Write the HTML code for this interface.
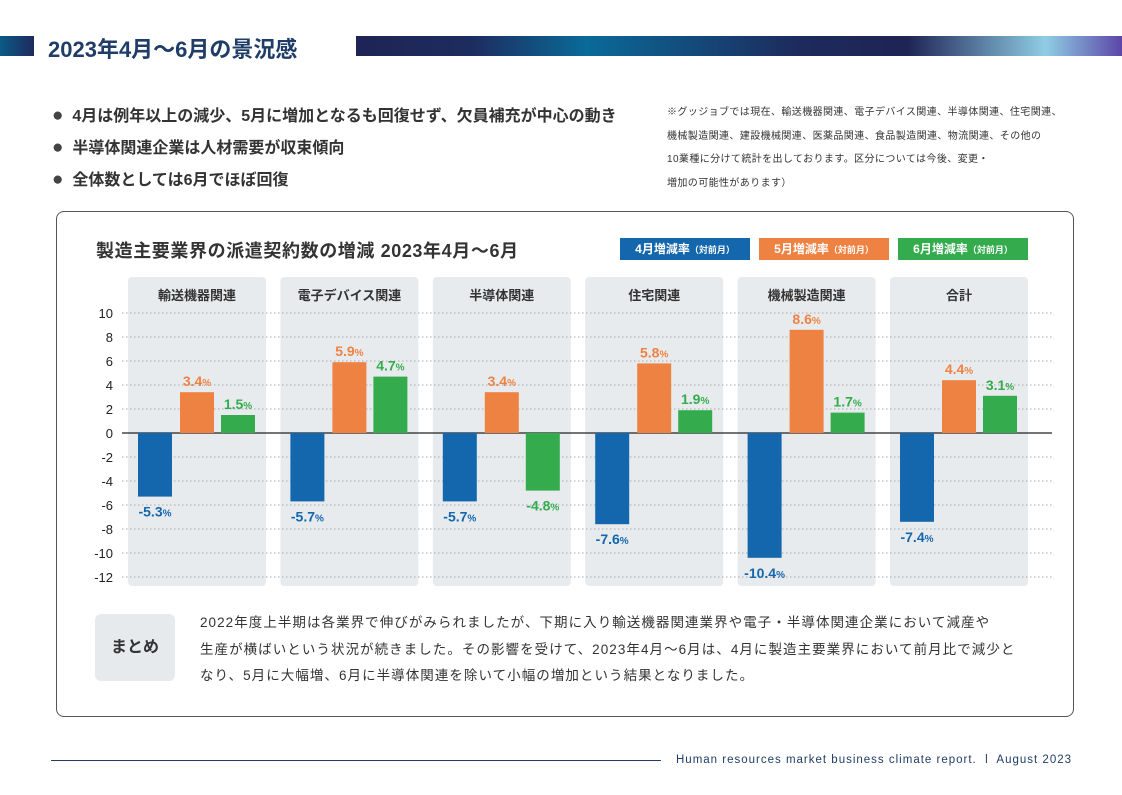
<!DOCTYPE html>
<html><head><meta charset="utf-8"><style>
body{margin:0;width:1122px;height:795px;background:#fff;font-family:"Liberation Sans","Noto Sans CJK JP",sans-serif;position:relative;overflow:hidden;color:#333}
.abs{position:absolute}
</style></head><body>
<div class="abs" style="left:0;top:36px;width:34px;height:20px;background:linear-gradient(90deg,#0b5b86,#1e2a5c)"></div>
<div class="abs" style="left:48px;top:32px;font-size:22px;font-weight:bold;color:#1f3d66;white-space:nowrap">2023年4月～6月の景況感</div>
<div class="abs" style="left:356px;top:36px;width:766px;height:20px;background:linear-gradient(90deg,#1e2455 0%,#1d2c5e 15%,#0a6a98 30%,#1d2a5c 58%,#1e2455 72%,#8fcde4 90%,#5c46a8 100%)"></div>
<div class="abs" style="left:52px;top:100px;font-size:16px;font-weight:bold;color:#333;line-height:31px;white-space:nowrap">
<div><span style="color:#444;font-size:19px">●</span>&nbsp; 4月は例年以上の減少、5月に増加となるも回復せず、欠員補充が中心の動き</div>
<div><span style="color:#444;font-size:19px">●</span>&nbsp; 半導体関連企業は人材需要が収束傾向</div>
<div><span style="color:#444;font-size:19px">●</span>&nbsp; 全体数としては6月でほぼ回復</div>
</div>
<div class="abs" style="left:667px;top:101px;font-size:10px;line-height:23.5px;color:#333;white-space:nowrap;letter-spacing:0.4px">※グッジョブでは現在、輸送機器関連、電子デバイス関連、半導体関連、住宅関連、<br>機械製造関連、建設機械関連、医薬品関連、食品製造関連、物流関連、その他の<br>10業種に分けて統計を出しております。区分については今後、変更・<br>増加の可能性があります）</div>
<div class="abs" style="left:56px;top:211px;width:1016px;height:504px;border:1px solid #555;border-radius:8px"></div>
<div class="abs" style="left:96px;top:237px;font-size:18px;font-weight:bold;color:#333;white-space:nowrap;letter-spacing:0.6px">製造主要業界の派遣契約数の増減 2023年4月～6月</div>
<div class="abs" style="left:620px;top:238px;width:130px;height:22px;background:#1466ad;color:#fff;font-size:12px;font-weight:bold;text-align:center;line-height:22px">4月増減率<span style="font-size:9px">（対前月）</span></div>
<div class="abs" style="left:759px;top:238px;width:130px;height:22px;background:#ee8243;color:#fff;font-size:12px;font-weight:bold;text-align:center;line-height:22px">5月増減率<span style="font-size:9px">（対前月）</span></div>
<div class="abs" style="left:898px;top:238px;width:130px;height:22px;background:#34ac4e;color:#fff;font-size:12px;font-weight:bold;text-align:center;line-height:22px">6月増減率<span style="font-size:9px">（対前月）</span></div>
<svg id="chart" class="abs" style="left:0;top:0" width="1122" height="795"></svg>
<div class="abs" style="left:95px;top:614px;width:80px;height:67px;background:#e6eaed;border-radius:6px;font-size:16px;font-weight:bold;text-align:center;line-height:67px;color:#333">まとめ</div>
<div class="abs" style="left:200px;top:610px;font-size:13.5px;line-height:26.5px;color:#333;letter-spacing:1.05px;white-space:nowrap">2022年度上半期は各業界で伸びがみられましたが、下期に入り輸送機器関連業界や電子・半導体関連企業において減産や<br>生産が横ばいという状況が続きました。その影響を受けて、2023年4月～6月は、4月に製造主要業界において前月比で減少と<br>なり、5月に大幅増、6月に半導体関連を除いて小幅の増加という結果となりました。</div>
<div class="abs" style="left:51px;top:760px;width:610px;height:1px;background:#1f3d66"></div>
<div class="abs" style="left:676px;top:754px;font-size:11.5px;color:#1f3d66;white-space:nowrap;letter-spacing:1px">Human resources market business climate report.&nbsp; l&nbsp; August 2023</div>
<script>
const categories=["輸送機器関連","電子デバイス関連","半導体関連","住宅関連","機械製造関連","合計"];
const aprilValues=[-5.3,-5.7,-5.7,-7.6,-10.4,-7.4];
const mayValues=[3.4,5.9,3.4,5.8,8.6,4.4];
const juneValues=[1.5,4.7,-4.8,1.9,1.7,3.1];
const yTicks=[10,8,6,4,2,0,-2,-4,-6,-8,-10,-12];
const NS="http://www.w3.org/2000/svg";
const svg=document.getElementById('chart');
const y=v=>433-v*12;
const px=i=>128+i*152.4;
function mk(t,a){const e=document.createElementNS(NS,t);for(const k in a)e.setAttribute(k,a[k]);svg.appendChild(e);return e;}
categories.forEach((c,i)=>{
  const p=mk('rect',{x:px(i),y:277,width:138,height:309,rx:4,fill:'#e8ebed'});
  
  
  const t=mk('text',{x:px(i)+69,y:300,'text-anchor':'middle','font-size':13,'font-weight':'bold',fill:'#333'});
  t.textContent=c;
  
  
});
yTicks.forEach(v=>{
  const l=mk('line',{x1:122,x2:1052,y1:y(v),y2:y(v),stroke:v===0?'#222':'#aaa','stroke-width':v===0?1.2:1,'stroke-dasharray':v===0?'':'1.5 2.5'});
  
  
  const t=mk('text',{x:113,y:y(v)+5,'text-anchor':'end','font-size':13,fill:'#222'});
  t.textContent=v;
  
  
});
const series=[[aprilValues,'#1466ad',10,'april'],[mayValues,'#ee8243',52,'may'],[juneValues,'#34ac4e',93,'june']];
series.forEach(([vals,col,off,nm])=>{
  vals.forEach((v,i)=>{
    const x=px(i)+off,w=34;
    const r=mk('rect',{x:x,y:Math.min(y(v),y(0)),width:w,height:Math.abs(v)*12,fill:col});
    
    
    const ty=v>=0?y(v)-6:y(v)+20;
    const t=mk('text',{x:x+w/2,y:ty,'text-anchor':'middle','font-size':14,'font-weight':'bold',fill:col});
    t.innerHTML=v.toFixed(1)+'<tspan font-size="10">%</tspan>';
    
    
  });
});
</script>
</body></html>
